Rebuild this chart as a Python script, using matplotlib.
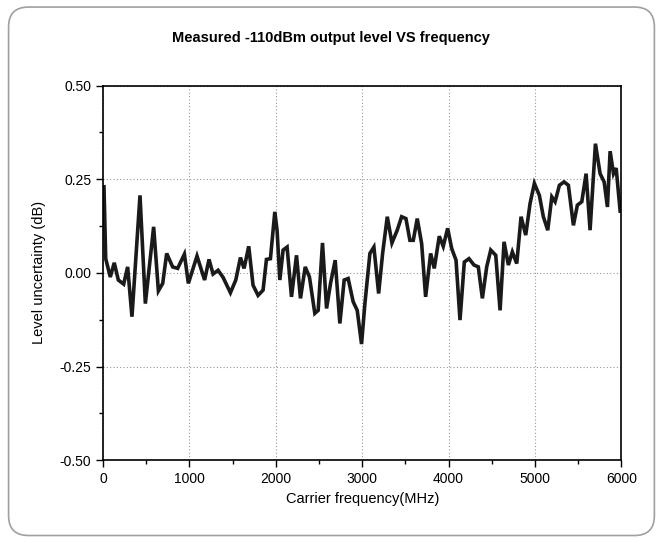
import matplotlib.pyplot as plt
import numpy as np
from matplotlib.patches import FancyBboxPatch
from matplotlib.ticker import MultipleLocator

plt.rcParams['font.family'] = ['Liberation Sans Narrow', 'Liberation Sans', 'DejaVu Sans']

# (MHz, dB)
freq = [10, 30, 83, 129, 176, 238, 284, 334, 427, 489, 585, 640, 690, 736, 805, 863,
        941, 987, 1087, 1175, 1226, 1273, 1331, 1389, 1474, 1536, 1590, 1632, 1686,
        1736, 1794, 1852, 1891, 1937, 1988, 2014, 2046, 2084, 2130, 2181, 2239, 2285,
        2340, 2389, 2451, 2490, 2540, 2587, 2633, 2687, 2741, 2791, 2837, 2895, 2942,
        2992, 3031, 3089, 3135, 3190, 3236, 3290, 3344, 3405, 3456, 3506, 3552, 3591,
        3637, 3688, 3734, 3792, 3834, 3892, 3938, 3989, 4036, 4086, 4132, 4182, 4236,
        4294, 4344, 4391, 4441, 4488, 4546, 4596, 4642, 4692, 4738, 4789, 4839, 4893,
        4943, 4993, 5051, 5097, 5148, 5195, 5233, 5283, 5337, 5387, 5445, 5491, 5542,
        5592, 5638, 5700, 5754, 5801, 5839, 5870, 5909, 5940, 5986]
level = [0.23, 0.038, -0.011, 0.027, -0.019, -0.030, 0.016, -0.117, 0.207, -0.082,
         0.123, -0.048, -0.028, 0.052, 0.016, 0.012, 0.050, -0.028, 0.045, -0.019,
         0.036, -0.003, 0.007, -0.012, -0.053, -0.019, 0.041, 0.012, 0.071, -0.033,
         -0.060, -0.046, 0.036, 0.038, 0.163, 0.114, -0.019, 0.061, 0.069, -0.064,
         0.047, -0.068, 0.016, -0.011, -0.108, -0.100, 0.080, -0.095, -0.028, 0.034,
         -0.135, -0.019, -0.015, -0.077, -0.100, -0.19, -0.082, 0.052, 0.069, -0.055,
         0.052, 0.150, 0.080, 0.114, 0.150, 0.145, 0.087, 0.087, 0.145, 0.078, -0.064,
         0.052, 0.012, 0.098, 0.071, 0.119, 0.065, 0.034, -0.126, 0.029, 0.038, 0.021,
         0.016, -0.068, 0.016, 0.061, 0.047, -0.100, 0.083, 0.021, 0.056, 0.025, 0.150,
         0.101, 0.185, 0.239, 0.207, 0.150, 0.114, 0.203, 0.190, 0.234, 0.243, 0.234,
         0.127, 0.181, 0.190, 0.265, 0.114, 0.345, 0.265, 0.243, 0.176, 0.325, 0.265,
         0.28, 0.165]

fig = plt.figure(figsize=(6.61, 5.42), dpi=100)

# rounded frame around everything
frame = FancyBboxPatch((0.013, 0.012), 0.977, 0.975, boxstyle='round,pad=0,rounding_size=0.03',
                       transform=fig.transFigure, facecolor='white', edgecolor='#a0a0a0',
                       linewidth=1.2, mutation_aspect=661 / 542, zorder=-5)
fig.patches.append(frame)

ax = fig.add_axes([0.156, 0.151, 0.784, 0.691])
ax.set_zorder(2)
ax.plot(freq, level, color='#1a1a1a', linewidth=2.6, solid_joinstyle='miter')

ax.set_xlim(0, 6000)
ax.set_ylim(-0.5, 0.5)
ax.xaxis.set_major_locator(MultipleLocator(1000))
ax.xaxis.set_minor_locator(MultipleLocator(500))
ax.yaxis.set_major_locator(MultipleLocator(0.25))
ax.yaxis.set_minor_locator(MultipleLocator(0.125))
ax.yaxis.set_major_formatter(lambda v, pos: f'{v:.2f}')
ax.tick_params(which='major', direction='out', length=5, width=1, labelsize=10)
ax.tick_params(which='minor', direction='out', length=3, width=1)
ax.grid(True, which='major', linestyle=(0, (1, 2)), color='#999999', linewidth=0.8)
for s in ax.spines.values():
    s.set_linewidth(1.2)

ax.set_xlabel('Carrier frequency(MHz)', fontsize=10.5, labelpad=4)
ax.set_ylabel('Level uncertainty (dB)', fontsize=10.5, labelpad=10)
fig.text(0.5, 0.93, 'Measured -110dBm output level VS frequency', ha='center', va='center',
         fontsize=10.5, fontweight='bold')

fig.savefig('out.png', dpi=100)
